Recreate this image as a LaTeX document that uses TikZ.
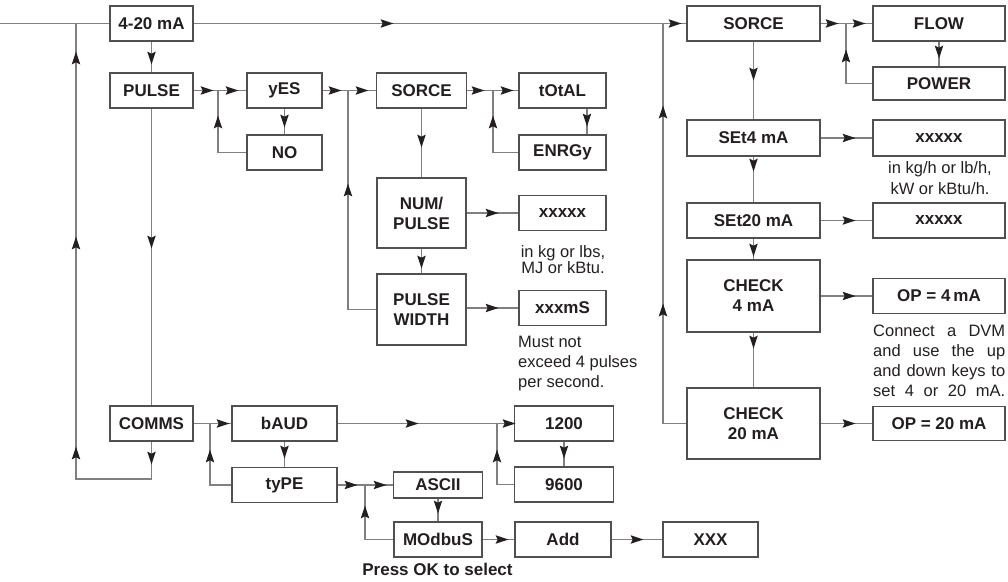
\documentclass[tikz,border=0pt]{standalone}
\usepackage{fontspec}
\setmainfont{Liberation Sans}
\usetikzlibrary{arrows.meta}
\definecolor{ink}{HTML}{231F20}
\definecolor{wirec}{HTML}{808080}
\definecolor{framec}{HTML}{505050}
\begin{document}
\begin{tikzpicture}[x=1pt,y=-1pt,
  box/.style={draw=framec, line width=1.3pt, fill=white, text=ink,
    font=\fontsize{17}{20}\selectfont\bfseries, align=center, inner sep=0pt},
  wire/.style={draw=wirec, line width=1.3pt},
  lbl/.style={text=ink, font=\fontsize{16.5}{20}\selectfont, inner sep=0pt},
  ahead/.pic={\fill[ink] (6.5,0) -- (-6.5,4.3) -- (-4.3,0) -- (-6.5,-4.3) -- cycle;}
]
\path[use as bounding box] (0,0) rectangle (1008,581);

% boxes
\node[box, minimum width=83pt, minimum height=35pt] (m420) at (151.5,23.5) {4-20 mA};
\node[box, minimum width=83pt, minimum height=35pt] (pulse) at (151.5,90.5) {PULSE};
\node[box, minimum width=83pt, minimum height=35pt] (comms) at (151.5,423.5) {COMMS};
\node[box, minimum width=75pt, minimum height=35pt] (yes) at (284.5,90.5) {yES};
\node[box, minimum width=75pt, minimum height=35pt] (no) at (284.5,152.5) {NO};
\node[box, minimum width=90pt, minimum height=35pt] (sorce1) at (421.5,90.5) {SORCE};
\node[box, minimum width=87pt, minimum height=35pt] (total) at (562.5,90.5) {tOtAL};
\node[box, minimum width=87pt, minimum height=35pt] (enrgy) at (562.5,152.5) {ENRGy};
\node[box, minimum width=89pt, minimum height=70pt] (num) at (421.5,213) {NUM/\\PULSE};
\node[box, minimum width=87pt, minimum height=35pt] (x1) at (562.5,213) {xxxxx};
\node[box, minimum width=89pt, minimum height=71pt] (pw) at (421.5,309.5) {PULSE\\WIDTH};
\node[box, minimum width=87pt, minimum height=35pt] (xms) at (562.5,308) {xxxmS};
\node[box, minimum width=133pt, minimum height=35pt] (sorce2) at (753.5,23.5) {SORCE};
\node[box, minimum width=132pt, minimum height=35pt] (flow) at (939,23.5) {FLOW};
\node[box, minimum width=132pt, minimum height=33pt] (power) at (939,83.5) {POWER};
\node[box, minimum width=133pt, minimum height=36pt] (set4) at (753.5,138) {SEt4 mA};
\node[box, minimum width=132pt, minimum height=36pt] (x2) at (939,138) {xxxxx};
\node[box, minimum width=133pt, minimum height=35pt] (set20) at (753.5,220.5) {SEt20 mA};
\node[box, minimum width=132pt, minimum height=35pt] (x3) at (939,220.5) {xxxxx};
\node[box, minimum width=133pt, minimum height=72pt] (chk4) at (753.5,296) {CHECK\\4 mA};
\node[box, minimum width=132pt, minimum height=35pt] (op4) at (939,296) {OP = 4\,mA};
\node[box, minimum width=133pt, minimum height=71pt] (chk20) at (753.5,423.5) {CHECK\\20 mA};
\node[box, minimum width=132pt, minimum height=34pt] (op20) at (939,423.5) {OP = 20 mA};
\node[box, minimum width=105pt, minimum height=35pt] (baud) at (284.5,423.5) {bAUD};
\node[box, minimum width=105pt, minimum height=35pt] (type) at (284.5,485) {tyPE};
\node[box, minimum width=89pt, minimum height=26pt] (ascii) at (438,485) {ASCII};
\node[box, minimum width=88pt, minimum height=35pt] (modbus) at (438,539.5) {MOdbuS};
\node[box, minimum width=96pt, minimum height=35pt] (add) at (563,539.5) {Add};
\node[box, minimum width=95pt, minimum height=35pt] (xxx) at (710.5,539.5) {XXX};
\node[box, minimum width=99pt, minimum height=35pt] (b1200) at (564,423.5) {1200};
\node[box, minimum width=99pt, minimum height=35pt] (b9600) at (564,484.5) {9600};

% labels (base anchor = baseline of last line)
\node[lbl, align=center, anchor=base, font=\fontsize{16.5}{16}\selectfont] (t1) at (563,273) {in kg or lbs,\\MJ or kBtu.};
\node[lbl, align=center, anchor=base, font=\fontsize{16.5}{21}\selectfont] (t2) at (940,194) {in kg/h or lb/h,\\kW or kBtu/h.};
\node[lbl, align=left, anchor=base west] (t3) at (518,387) {Must not\\exceed 4 pulses\\per second.};
\node[lbl, align=left, anchor=base west] (t4) at (873,396) {\makebox[132pt][s]{Connect a DVM}\\\makebox[132pt][s]{and use the up}\\\makebox[132pt][s]{and down keys to}\\\makebox[132pt][s]{set 4 or 20 mA.}};
\node[text=ink, font=\fontsize{17}{20}\selectfont\bfseries, inner sep=0pt, anchor=base] (t5) at (437.5,575) {Press OK to select};

% junctions
\coordinate (in) at (0,23.5);
\coordinate (lj) at (76,23.5);
\coordinate (lb) at (76,479);
\coordinate (rj) at (663,23.5);
\coordinate (j1) at (218,90.5);
\coordinate (j2) at (348,90.5);
\coordinate (j3) at (493,90.5);
\coordinate (j4) at (846,23.5);
\coordinate (j5) at (210,423.5);
\coordinate (j6) at (497,423.5);
\coordinate (j7) at (365,485);

% wires
\draw[wire] (in) -- (m420.west);
\draw[wire] (m420.east) -- (sorce2.west);
\draw[wire] (m420.south) -- (pulse.north);
\draw[wire] (pulse.south) -- (comms.north);
\draw[wire] (comms.south) |- (lb) -- (lj);
\draw[wire] (pulse.east) -- (yes.west);
\draw[wire] (yes.south) -- (no.north);
\draw[wire] (no.west) -| (j1);
\draw[wire] (yes.east) -- (sorce1.west);
\draw[wire] (sorce1.east) -- (total.west);
\draw[wire] ([xshift=24.5pt]total.south) -- ([xshift=24.5pt]enrgy.north);
\draw[wire] (enrgy.west) -| (j3);
\draw[wire] (sorce1.south) -- (num.north);
\draw[wire] (num.south) -- (pw.north);
\draw[wire] (pw.west) -| (j2);
\draw[wire] (num.east) -- (x1.west);
\draw[wire] (pw.east |- xms.west) -- (xms.west);
\draw[wire] (chk20.west) -| (rj);
\draw[wire] (sorce2.east) -- (flow.west);
\draw[wire] (flow.south) -- (power.north);
\draw[wire] (power.west) -| (j4);
\draw[wire] (sorce2.south) -- (set4.north);
\draw[wire] (set4.south) -- (set20.north);
\draw[wire] (set20.south) -- (chk4.north);
\draw[wire] (chk4.south) -- (chk20.north);
\draw[wire] (set4.east) -- (x2.west);
\draw[wire] (set20.east) -- (x3.west);
\draw[wire] (chk4.east) -- (op4.west);
\draw[wire] (chk20.east) -- (op20.west);
\draw[wire] (comms.east) -- (baud.west);
\draw[wire] (baud.south) -- (type.north);
\draw[wire] (type.west) -| (j5);
\draw[wire] (baud.east) -- (b1200.west);
\draw[wire] (b1200.south) -- (b9600.north);
\draw[wire] (b9600.west) -| (j6);
\draw[wire] (type.east) -- (ascii.west);
\draw[wire] (ascii.south) -- (modbus.north);
\draw[wire] (modbus.west) -| (j7);
\draw[wire] (modbus.east) -- (add.west);
\draw[wire] (add.east) -- (xxx.west);

% arrowheads: right
\foreach \p in {(207,90.5),(232,90.5),(335,90.5),(362,90.5),(478,90.5),(507,90.5),(387,23.5),
  (492,213),(492,308),(675,23.5),(832,23.5),(859,23.5),(849,138),(849,220.5),(849,296),
  (849,423.5),(223,423.5),(351,485),(380,485),(502,539.5),(637,539.5),(412,423.5),(509,423.5)}
  \pic at \p {ahead};
% down
\foreach \p in {(151.5,58),(151.5,242),(151.5,458),(284.5,121),(587,120),(421.5,141),(421.5,262),
  (939,52),(753.5,74),(753.5,165),(753.5,250),(753.5,342),(284.5,452),(564,452),(438,507)}
  \pic[rotate=-90] at \p {ahead};
% up
\foreach \p in {(76,453),(76,243),(76,58),(218,122),(493,122),(348,190),(663,112),(663,310),
  (846,56),(210,456),(497,456),(365,512)}
  \pic[rotate=90] at \p {ahead};
\end{tikzpicture}
\end{document}
